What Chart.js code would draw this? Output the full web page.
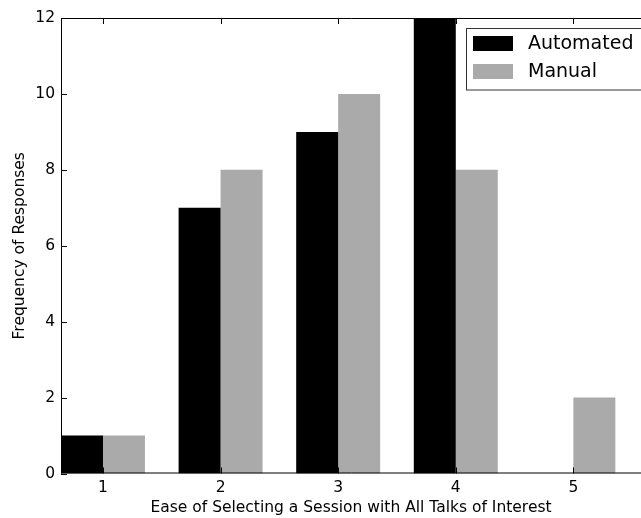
<!DOCTYPE html>
<html>
<head>
<meta charset="utf-8">
<script src="https://cdn.jsdelivr.net/npm/chart.js@4/dist/chart.umd.min.js"></script>
<style>
    html, body { margin: 0; padding: 0; background: #fff; overflow: hidden; }
    #wrap { position: relative; width: 641px; height: 518px; }
</style>
</head>
<body>
<div id="wrap"><canvas id="chart"></canvas></div>
<script>
(function () {
    'use strict';

    // data
    const categories = [1, 2, 3, 4, 5];
    const automated = [1, 7, 9, 12, 0];
    const manual = [1, 8, 10, 8, 2];
    const yTicks = [0, 2, 4, 6, 8, 10, 12];

    const seriesNames = ['Automated', 'Manual'];
    const seriesColors = ['#000000', '#aaaaaa'];

    Chart.defaults.font.family = '"DejaVu Sans", sans-serif';
    Chart.defaults.color = '#000';

    function toPoints(values) {
        return categories.map((c, i) => ({ x: c, y: values[i] }));
    }

    // matplotlib-like frame: spines, inward ticks and a boxed legend
    const framePlugin = {
        id: 'frame',
        afterDraw(chart) {
            const ctx = chart.ctx;
            const area = chart.chartArea;
            const xs = chart.scales.x;
            const ys = chart.scales.y;
            const tick = 6;

            ctx.save();
            ctx.strokeStyle = '#000';
            ctx.lineWidth = 1;
            ctx.beginPath();
            ctx.moveTo(area.left + 0.5, area.bottom);
            ctx.lineTo(area.left + 0.5, area.top + 0.5);
            ctx.lineTo(area.right + 2, area.top + 0.5);
            ctx.moveTo(area.left, area.bottom - 0.5);
            ctx.lineTo(area.right + 2, area.bottom - 0.5);

            yTicks.forEach(v => {
                const py = Math.round(ys.getPixelForValue(v)) + 0.5;
                ctx.moveTo(area.left, py);
                ctx.lineTo(area.left + tick, py);
            });
            categories.forEach(v => {
                const px = Math.round(xs.getPixelForValue(v)) + 0.5;
                ctx.moveTo(px, area.bottom);
                ctx.lineTo(px, area.bottom - tick);
                ctx.moveTo(px, area.top);
                ctx.lineTo(px, area.top + tick);
            });
            ctx.stroke();

            // legend box, cut by the right edge like the original
            const bx = 466.5, by = 28.5, bw = 190, bh = 61.5;
            ctx.fillStyle = '#fff';
            ctx.fillRect(bx, by, bw, bh);
            ctx.strokeStyle = '#333';
            ctx.strokeRect(bx, by, bw, bh);

            ctx.font = '19px "DejaVu Sans", sans-serif';
            ctx.textBaseline = 'middle';
            ctx.textAlign = 'left';
            chart.data.datasets.forEach((ds, i) => {
                const cy = 43.5 + i * 28;
                ctx.fillStyle = ds.backgroundColor;
                ctx.fillRect(473, cy - 7.5, 40, 15);
                ctx.fillStyle = '#000';
                ctx.fillText(ds.label, 528, cy + 1);
            });
            ctx.restore();
        }
    };

    new Chart(document.getElementById('chart').getContext('2d'), {
        type: 'bar',
        data: {
            datasets: [
                {
                    label: seriesNames[0],
                    data: toPoints(automated),
                    backgroundColor: seriesColors[0],
                    borderWidth: 0
                },
                {
                    label: seriesNames[1],
                    data: toPoints(manual),
                    backgroundColor: seriesColors[1],
                    borderWidth: 0
                }
            ]
        },
        options: {
            responsive: true,
            maintainAspectRatio: false,
            animation: false,
            layout: { padding: { top: 18, right: 0, left: 0, bottom: 0 } },
            datasets: {
                bar: { categoryPercentage: 0.714, barPercentage: 1.0, grouped: true }
            },
            plugins: {
                legend: { display: false },
                tooltip: { enabled: false }
            },
            scales: {
                x: {
                    type: 'linear',
                    min: 0.643,
                    max: 5.575,
                    offset: false,
                    grid: { display: false, drawTicks: false },
                    border: { display: false },
                    afterBuildTicks(scale) {
                        scale.ticks = categories.map(v => ({ value: v }));
                    },
                    afterFit(scale) { scale.height = 44.5; },
                    ticks: {
                        padding: 5,
                        font: { size: 15.5 },
                        color: '#000',
                        maxRotation: 0,
                        callback: v => String(v)
                    },
                    title: {
                        display: true,
                        text: 'Ease of Selecting a Session with All Talks of Interest',
                        font: { size: 15.5 },
                        color: '#000',
                        padding: { top: 0, bottom: 1 }
                    }
                },
                y: {
                    min: 0,
                    max: 12,
                    grid: { display: false, drawTicks: false },
                    border: { display: false },
                    afterBuildTicks(scale) {
                        scale.ticks = yTicks.map(v => ({ value: v }));
                    },
                    afterFit(scale) { scale.width = 61; },
                    ticks: {
                        padding: 6,
                        font: { size: 15.5 },
                        color: '#000'
                    },
                    title: {
                        display: true,
                        text: 'Frequency of Responses',
                        font: { size: 15.5 },
                        color: '#000',
                        padding: { top: 11, bottom: 0 }
                    }
                }
            }
        },
        plugins: [framePlugin]
    });
})();
</script>
</body>
</html>
